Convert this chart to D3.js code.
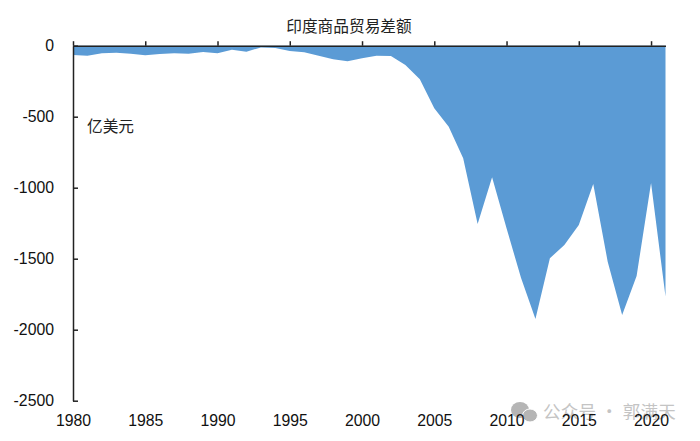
<!DOCTYPE html>
<html>
<head>
<meta charset="utf-8">
<script src="https://cdn.jsdelivr.net/npm/d3@7/dist/d3.min.js"></script>
<style>
  html, body { margin: 0; padding: 0; background: #fff; }
  svg { display: block; }
  text { font-family: "Liberation Sans", Arial, sans-serif; fill: #111; }
  .cjk { font-family: "Noto Sans CJK SC", sans-serif; fill: #222; }
</style>
</head>
<body>
<div id="root"></div>
<script>
var years = d3.range(1980, 2022);
var balance = [
  -65, -70, -53, -49, -56, -68, -58, -54, -56, -44,
  -53, -28, -42, -12, -16, -38, -46, -70, -96, -110,
  -88, -70, -72, -136, -237, -440, -570, -792, -1255, -927,
  -1285, -1635, -1925, -1497, -1403, -1263, -974, -1521, -1897, -1622,
  -967, -1767
];
var xTicks = [1980, 1985, 1990, 1995, 2000, 2005, 2010, 2015, 2020];
var yTicks = [0, -500, -1000, -1500, -2000, -2500];
var title = '印度商品贸易差额';
var unit = '亿美元';
var watermark = '公众号 · 郭满天';

var width = 700;
var height = 441;

var x = d3.scaleLinear().domain([1980, 2021]).range([73, 665.5]);
var y = d3.scaleLinear().domain([0, -2500]).range([45.7, 400.7]);

var svg = d3.select('#root').append('svg')
  .attr('width', width)
  .attr('height', height);

// watermark sits under the tick labels
var mark = svg.append('g').attr('fill', '#b5b5b5');
mark.append('ellipse').attr('cx', 520).attr('cy', 410).attr('rx', 9).attr('ry', 8);
mark.append('ellipse').attr('cx', 530).attr('cy', 415.5).attr('rx', 7.5).attr('ry', 6.5)
  .attr('stroke', '#fff').attr('stroke-width', 1);
svg.append('text')
  .attr('class', 'cjk')
  .attr('x', 543)
  .attr('y', 418)
  .attr('font-size', 17.5)
  .attr('letter-spacing', 0.3)
  .style('fill', '#c4c4c4')
  .text(watermark);

var area = d3.area()
  .x(function (d, i) { return x(years[i]); })
  .y0(y(0))
  .y1(function (d) { return y(d); });

svg.append('path')
  .datum(balance)
  .attr('fill', '#5b9bd5')
  .attr('d', area);

var xAxis = svg.append('g')
  .attr('transform', 'translate(0,' + y(0) + ')')
  .call(d3.axisTop(x).tickValues(xTicks).tickFormat(String).tickSize(4.5).tickSizeOuter(0));
xAxis.selectAll('text')
  .attr('y', y(-2500) - y(0) + 25)
  .attr('dy', 0)
  .attr('font-size', 15.8)
  .attr('font-family', '"Liberation Sans", Arial, sans-serif');

var yAxis = svg.append('g')
  .attr('transform', 'translate(' + x(1980) + ',0)')
  .call(d3.axisLeft(y).tickValues(yTicks).tickFormat(String).tickSize(-5).tickSizeOuter(0));
yAxis.selectAll('text')
  .attr('x', -19)
  .attr('dy', '0.32em')
  .attr('font-size', 15.8)
  .attr('font-family', '"Liberation Sans", Arial, sans-serif');

svg.selectAll('.domain, .tick line')
  .attr('stroke', '#222')
  .attr('stroke-width', 1.5);

svg.append('text')
  .attr('class', 'cjk')
  .attr('x', 349)
  .attr('y', 32)
  .attr('text-anchor', 'middle')
  .attr('font-size', 15.7)
  .text(title);

svg.append('text')
  .attr('class', 'cjk')
  .attr('x', 87)
  .attr('y', 132)
  .attr('font-size', 15.7)
  .text(unit);
</script>
</body>
</html>
